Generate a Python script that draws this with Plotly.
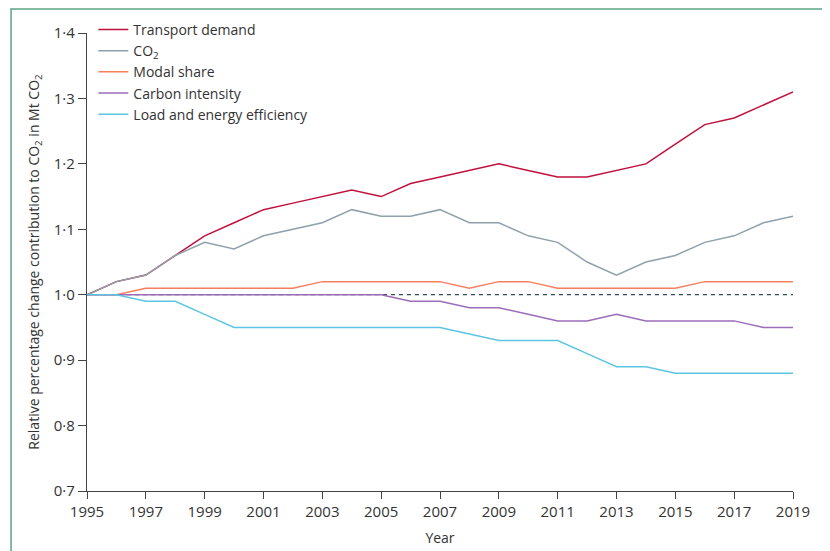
import plotly.graph_objects as go

years = list(range(1995, 2020))

transport_demand = [1.00, 1.02, 1.03, 1.06, 1.09, 1.11, 1.13, 1.14, 1.15, 1.16, 1.15, 1.17, 1.18,
                    1.19, 1.20, 1.19, 1.18, 1.18, 1.19, 1.20, 1.23, 1.26, 1.27, 1.29, 1.31]
co2 = [1.00, 1.02, 1.03, 1.06, 1.08, 1.07, 1.09, 1.10, 1.11, 1.13, 1.12, 1.12, 1.13,
       1.11, 1.11, 1.09, 1.08, 1.05, 1.03, 1.05, 1.06, 1.08, 1.09, 1.11, 1.12]
modal_share = [1.00, 1.00, 1.01, 1.01, 1.01, 1.01, 1.01, 1.01, 1.02, 1.02, 1.02, 1.02, 1.02,
               1.01, 1.02, 1.02, 1.01, 1.01, 1.01, 1.01, 1.01, 1.02, 1.02, 1.02, 1.02]
carbon_intensity = [1.00, 1.00, 1.00, 1.00, 1.00, 1.00, 1.00, 1.00, 1.00, 1.00, 1.00, 0.99, 0.99,
                    0.98, 0.98, 0.97, 0.96, 0.96, 0.97, 0.96, 0.96, 0.96, 0.96, 0.95, 0.95]
load_efficiency = [1.00, 1.00, 0.99, 0.99, 0.97, 0.95, 0.95, 0.95, 0.95, 0.95, 0.95, 0.95, 0.95,
                   0.94, 0.93, 0.93, 0.93, 0.91, 0.89, 0.89, 0.88, 0.88, 0.88, 0.88, 0.88]

x_ticks = list(range(1995, 2020, 2))
y_ticks = [0.7, 0.8, 0.9, 1.0, 1.1, 1.2, 1.3, 1.4]
y_tick_labels = ["0·7", "0·8", "0·9", "1·0", "1·1", "1·2", "1·3", "1·4"]

series = [
    ("Transport demand", transport_demand, "#c0103f"),
    ("CO<sub>2</sub>", co2, "#8fa1ab"),
    ("Modal share", modal_share, "#f57f60"),
    ("Carbon intensity", carbon_intensity, "#9b6cb8"),
    ("Load and energy efficiency", load_efficiency, "#5cc5e2"),
]

fig = go.Figure()

# reference line at 1.0
fig.add_trace(go.Scatter(
    x=[years[0], years[-1]], y=[1.0, 1.0], mode="lines",
    line=dict(color="#34505f", width=1.3, dash="4px,4px"),
    showlegend=False, hoverinfo="skip"
))

for name, vals, col in series:
    fig.add_trace(go.Scatter(
        x=years, y=vals, mode="lines", name=name,
        line=dict(color=col, width=1.5)
    ))

# page has an 8px body margin, so the figure is 8px smaller
fig.update_layout(
    width=822, height=543,
    margin=dict(l=79, r=37, t=25, b=60, autoexpand=False),
    paper_bgcolor="white", plot_bgcolor="white",
    font=dict(family="Open Sans, Noto Sans, sans-serif", size=14, color="#333333"),
    showlegend=True,
    legend=dict(x=0.009, y=1.0418, xanchor="left", yanchor="top",
                bgcolor="rgba(0,0,0,0)", font=dict(size=14, color="#333333"),
                tracegroupgap=0, itemwidth=30),
    xaxis=dict(
        range=[1995, 2019], tickvals=x_ticks, ticktext=[str(t) for t in x_ticks],
        showgrid=False, zeroline=False, showline=True, linecolor="#444444", linewidth=1.3,
        ticks="outside", ticklen=7, tickcolor="#444444", tickwidth=1.3,
        tickfont=dict(size=15),
        title=dict(text="Year", standoff=13, font=dict(size=14)),
    ),
    yaxis=dict(
        range=[0.7, 1.4], tickvals=y_ticks, ticktext=y_tick_labels,
        showgrid=False, zeroline=False, showline=True, linecolor="#444444", linewidth=1.3,
        ticks="outside", ticklen=8, tickcolor="#444444", tickwidth=1.3,
        tickfont=dict(size=15),
        title=dict(text="Relative percentage change contribution to CO<sub>2</sub> in Mt CO<sub>2</sub>",
                   standoff=10, font=dict(size=14)),
    ),
)

# green frame around the figure
fig.add_shape(type="rect", xref="paper", yref="paper",
              x0=-0.1076, x1=1.0453, y0=-0.2, y1=1.0524,
              line=dict(color="#5aa487", width=1.5), fillcolor="rgba(0,0,0,0)", layer="below")

fig.write_html("out.html")
